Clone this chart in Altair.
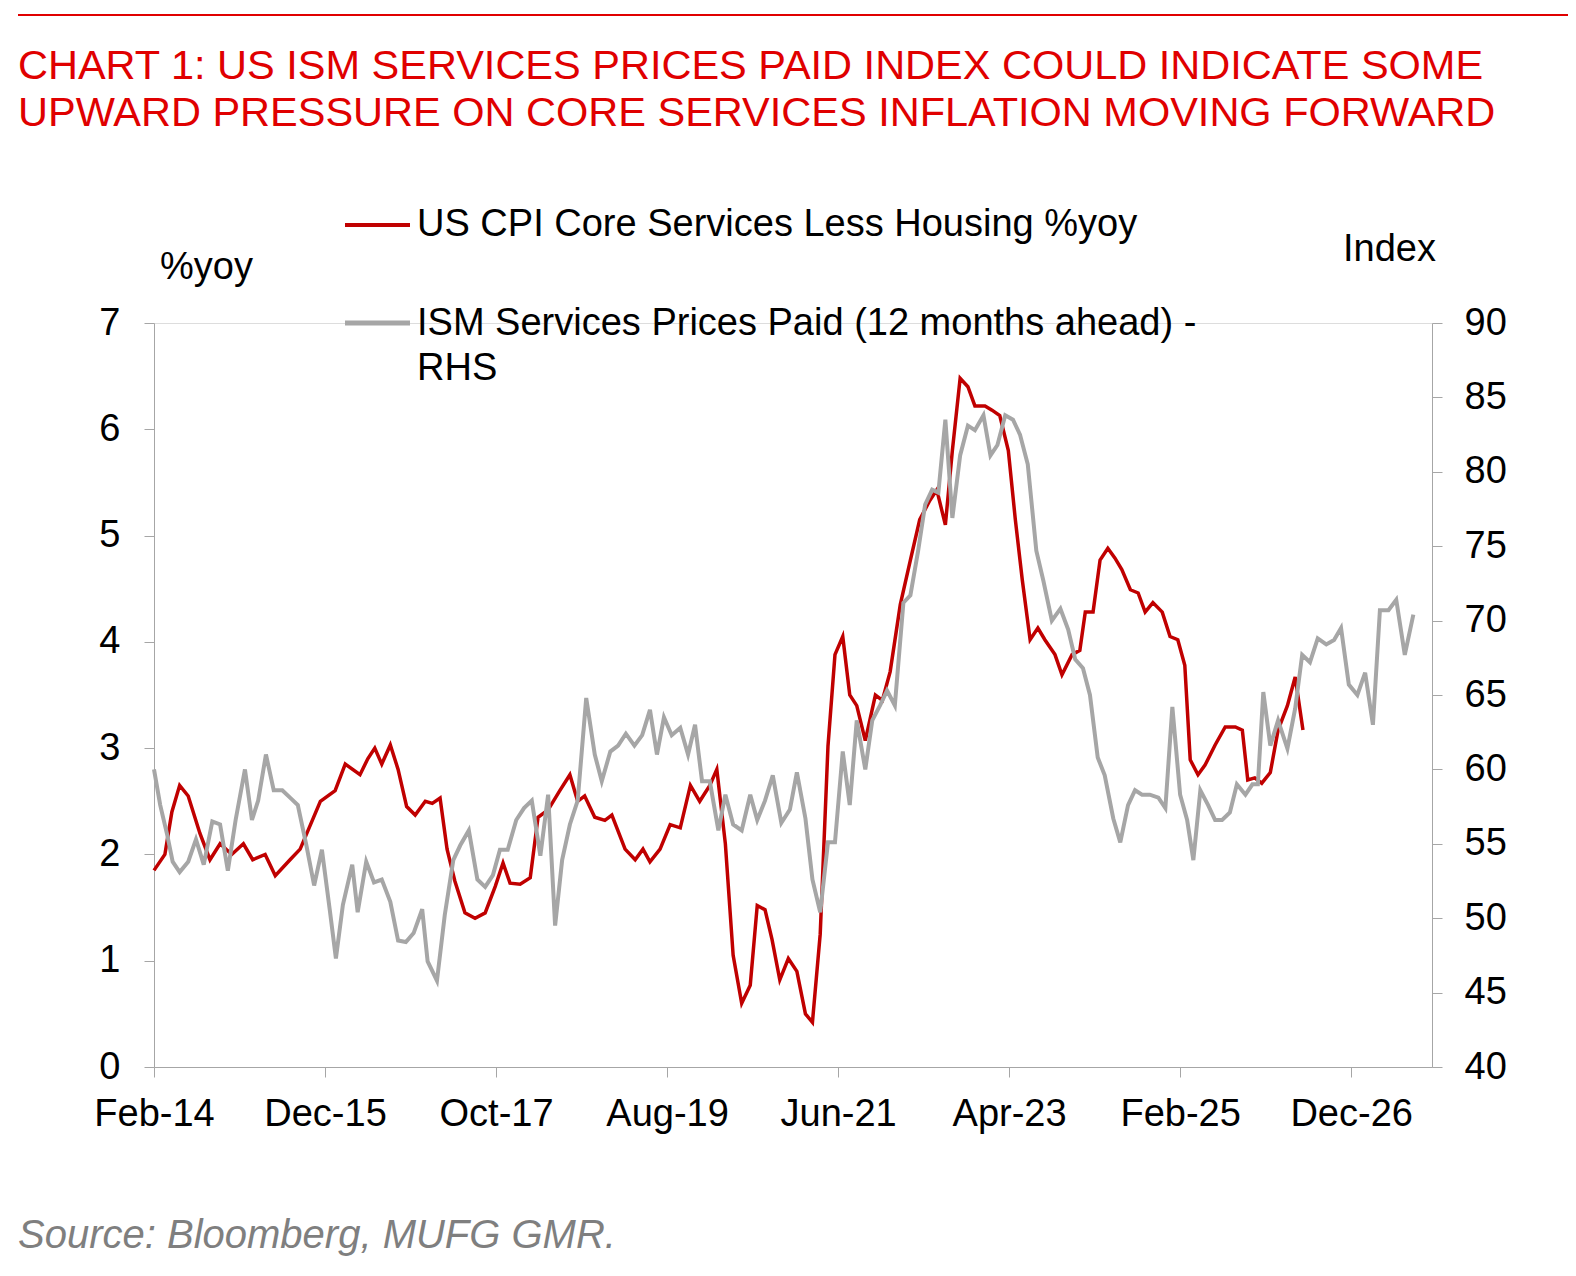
import pandas as pd
import altair as alt

FONT = "Liberation Sans"

# months since Feb-2014 and values
cpi_month = [0, 1.4, 2.3, 3.3, 4.4, 5.9, 7.2, 8.5, 10.0, 11.5, 12.7, 14.3, 15.6, 17.5, 18.8,
             21.4, 23.3, 24.6, 26.5, 27.5, 28.4, 29.3, 30.4, 31.4, 32.5, 33.6, 34.9, 35.8, 36.8,
             37.7, 38.7, 40.0, 41.3, 42.6, 43.9, 44.9, 45.8, 47.1, 48.4, 49.4, 50.7, 52.2, 53.5,
             54.5, 55.4, 56.7, 58.0, 58.9, 60.6, 61.9, 62.9, 63.8, 65.1, 66.4, 67.7, 69.0, 70.2,
             71.5, 72.4, 73.5, 74.5, 75.6, 76.7, 77.6, 78.6, 79.5, 80.5, 81.6, 82.7, 83.8, 84.7,
             85.7, 86.7, 87.6, 88.6, 89.5, 90.4, 91.5, 92.8, 93.7, 94.7, 96.0, 97.3, 98.5, 99.8,
             100.7, 101.8, 102.7, 103.7, 104.7, 105.6, 106.9, 107.8, 108.8, 109.9, 110.8, 111.7,
             112.7, 113.7, 114.6, 115.9, 116.8, 118.1, 119.1, 119.8, 120.8, 121.7, 122.7, 123.6,
             124.5, 125.6, 126.6, 127.5, 128.5, 129.7, 130.7, 131.7, 132.6, 133.3, 134.3, 135.2,
             136.5, 137.8, 139.1, 140.0, 140.7, 141.6, 142.5, 143.6, 144.6, 145.8, 146.8, 147.8]
cpi_value = [1.85, 2.0, 2.4, 2.65, 2.55, 2.2, 1.95, 2.1, 2.0, 2.1, 1.95, 2.0, 1.8, 1.95, 2.05,
             2.5, 2.6, 2.85, 2.75, 2.9, 3.0, 2.85, 3.03, 2.8, 2.45, 2.37, 2.5, 2.48, 2.53,
             2.05, 1.75, 1.45, 1.4, 1.45, 1.7, 1.92, 1.73, 1.72, 1.78, 2.35, 2.42, 2.6, 2.75,
             2.5, 2.55, 2.35, 2.32, 2.37, 2.05, 1.95, 2.05, 1.93, 2.05, 2.28, 2.25, 2.65, 2.5,
             2.65, 2.8, 2.1, 1.05, 0.6, 0.77, 1.52, 1.48, 1.2, 0.82, 1.02, 0.9, 0.5, 0.42,
             1.25, 3.02, 3.88, 4.05, 3.5, 3.4, 3.07, 3.5, 3.45, 3.72, 4.35, 4.77, 5.15, 5.33,
             5.43, 5.1, 5.8, 6.48, 6.4, 6.22, 6.22, 6.18, 6.13, 5.8, 5.15, 4.58,
             4.02, 4.13, 4.02, 3.88, 3.69, 3.88, 3.92, 4.28, 4.28, 4.77, 4.88, 4.79,
             4.68, 4.49, 4.46, 4.28, 4.37, 4.28, 4.05, 4.02, 3.78, 2.89, 2.75, 2.84,
             3.03, 3.2, 3.2, 3.17, 2.7, 2.72, 2.67, 2.77, 3.17, 3.4, 3.67, 3.17]

ism_month = [0, 0.8, 1.7, 2.4, 3.3, 4.4, 5.4, 6.4, 7.5, 8.5, 9.5, 10.5, 11.7, 12.6, 13.4, 14.4,
             15.4, 16.5, 17.5, 18.5, 19.6, 20.6, 21.6, 22.6, 23.4, 24.3, 25.5, 26.2, 27.3, 28.3,
             29.3, 30.4, 31.4, 32.4, 33.4, 34.5, 35.2, 36.4, 37.4, 38.5, 39.4, 40.5, 41.6, 42.6,
             43.6, 44.5, 45.5, 46.6, 47.6, 48.6, 49.7, 50.7, 51.6, 52.5, 53.5, 54.5, 55.6, 56.7,
             57.6, 58.7, 59.7, 60.7, 61.8, 62.8, 63.8, 64.7, 65.6, 66.6, 67.7, 68.7, 69.6, 70.5,
             71.5, 72.6, 73.5, 74.5, 75.6, 76.7, 77.6, 78.6, 79.6, 80.7, 81.8, 82.7, 83.8, 84.7,
             85.7, 86.7, 87.6, 88.6, 89.5, 90.4, 91.5, 92.4, 93.4, 94.3, 95.3, 96.4, 97.3, 98.3,
             99.2, 100.1, 100.9, 101.8, 102.7, 103.7, 104.7, 105.6, 106.7, 107.6, 108.5, 109.5,
             110.5, 111.4, 112.4, 113.5, 114.4, 115.5, 116.6, 117.6, 118.5, 119.5, 120.4, 121.4,
             122.3, 123.4, 124.3, 125.3, 126.2, 127.1, 128.1, 129.2, 130.1, 131.0, 132.0, 132.9,
             133.7, 134.6, 135.6, 136.5, 137.4, 138.4, 139.3, 140.4, 141.3, 142.0, 142.7, 143.6,
             144.6, 145.8, 146.8, 147.7, 148.7, 149.7, 150.8, 151.8, 152.7, 153.7, 154.8, 155.8,
             156.8, 157.7, 158.8, 159.8, 160.9, 162.0]
ism_value = [60, 57.6, 55.6, 53.8, 53.1, 53.8, 55.3, 53.6, 56.5, 56.3, 53.2, 56.6, 60, 56.6,
             57.9, 61, 58.6, 58.6, 58.1, 57.6, 54.9, 52.2, 54.6, 50.6, 47.3, 50.9, 53.6, 50.4,
             53.8, 52.4, 52.6, 51.1, 48.5, 48.4, 49, 50.6, 47.1, 45.8, 50.2, 53.9, 54.9, 55.9,
             52.6, 52.1, 52.9, 54.6, 54.6, 56.6, 57.4, 57.9, 54.2, 58.3, 49.5, 53.9, 56.3, 57.9,
             64.8, 61, 59.2, 61.2, 61.6, 62.4, 61.6, 62.3, 64, 61, 63.5, 62.3, 62.8, 61, 63,
             59.2, 59.2, 55.9, 58.3, 56.3, 55.9, 58.3, 56.6, 57.9, 59.6, 56.4, 57.3, 59.8, 56.7,
             52.6, 50.4, 55.1, 55.1, 61.2, 57.6, 63.3, 60, 63.3, 64.3, 65.3, 64.3, 71.2, 71.7,
             74.7, 77.8, 78.8, 78.6, 83.5, 76.9, 81.1, 83.1, 82.8, 83.8, 81.1, 81.8, 83.8, 83.5,
             82.5, 80.5, 74.7, 72.7, 70, 70.8, 69.4, 67.4, 66.8, 65, 60.8, 59.6, 56.7, 55.1,
             57.6, 58.6, 58.3, 58.3, 58.1, 57.4, 64.2, 58.3, 56.6, 53.9, 58.6, 57.6, 56.6, 56.6,
             57.1, 59, 58.3, 59, 59, 65.2, 61.6, 63.3, 61.4, 64.1, 67.7, 67.2, 68.8, 68.4, 68.7,
             69.5, 65.7, 65, 66.5, 63, 70.7, 70.7, 71.4, 67.7, 70.4]

tick_months = [0, 22, 44, 66, 88, 110, 132, 154]
tick_labels = ["Feb-14", "Dec-15", "Oct-17", "Aug-19", "Jun-21", "Apr-23", "Feb-25", "Dec-26"]

title_lines = ["CHART 1: US ISM SERVICES PRICES PAID INDEX COULD INDICATE SOME",
               "UPWARD PRESSURE ON CORE SERVICES INFLATION MOVING FORWARD"]
legend_cpi = "US CPI Core Services Less Housing %yoy"
legend_ism = ["ISM Services Prices Paid (12 months ahead) -", "RHS"]
source_text = "Source: Bloomberg, MUFG GMR."

RED = "#c00000"
GREY = "#a6a6a6"

cpi = pd.DataFrame({"m": cpi_month, "v": cpi_value})
ism = pd.DataFrame({"m": ism_month, "v": ism_value})

label_expr = "[" + ",".join(f"'{t}'" for t in tick_labels) + "][round(datum.value / 22)]"
x_enc = alt.X("m:Q", scale=alt.Scale(domain=[0, 164.4], nice=False),
              axis=alt.Axis(values=tick_months, labelExpr=label_expr, title=None,
                            labelFontSize=38, labelPadding=18, tickSize=10,
                            domainColor=GREY, tickColor=GREY, grid=False,
                            labelFont=FONT, labelColor="black", labelFlush=False))

cpi_line = alt.Chart(cpi).mark_line(color=RED, strokeWidth=3.5).encode(
    x=x_enc,
    y=alt.Y("v:Q", scale=alt.Scale(domain=[0, 7], nice=False),
            axis=alt.Axis(values=list(range(8)), title=None, orient="left", grid=False,
                          labelFontSize=38, labelPadding=24, tickSize=10,
                          domainColor=GREY, tickColor=GREY, labelFont=FONT,
                          labelColor="black")),
)

ism_line = alt.Chart(ism).mark_line(color=GREY, strokeWidth=4).encode(
    x=x_enc,
    y=alt.Y("v:Q", scale=alt.Scale(domain=[40, 90], nice=False),
            axis=alt.Axis(values=list(range(40, 91, 5)), title=None, orient="right",
                          grid=False, labelFontSize=38, labelPadding=22, tickSize=10,
                          domainColor=GREY, tickColor=GREY, labelFont=FONT,
                          labelColor="black")),
)


def text(t, x, y, size=38, color="black", align="left", style="normal"):
    return alt.Chart(pd.DataFrame({"t": [t]})).mark_text(
        font=FONT, fontSize=size, color=color, align=align, baseline="middle",
        fontStyle=style,
    ).encode(text="t:N", x=alt.value(x), y=alt.value(y))


def rule(x, x2, y, color, width):
    return alt.Chart(pd.DataFrame({"a": [0]})).mark_rule(color=color, strokeWidth=width).encode(
        x=alt.value(x), x2=alt.value(x2), y=alt.value(y))


decor = [
    rule(-136, 1414, -308, "#e00000", 2),
    text(title_lines[0], -136, -256, size=41.5, color="#e00000"),
    text(title_lines[1], -136, -209, size=41.5, color="#e00000"),
    rule(191, 256, -98, RED, 4),
    text(legend_cpi, 263, -98),
    rule(191, 256, 0, GREY, 5),
    text(legend_ism[0], 263, 1),
    text(legend_ism[1], 263, 46),
    text("%yoy", 6, -55),
    text("Index", 1282, -73, align="right"),
    text(source_text, -136, 913, size=40, color="#7f7f7f", style="italic"),
]

chart = alt.layer(cpi_line, ism_line, *decor).resolve_scale(y="independent").properties(
    width=1278, height=744,
    autosize=alt.AutoSizeParams(type="none"),
    padding={"left": 146, "top": 315, "right": 136, "bottom": 201},
).configure_view(stroke=None, strokeWidth=0).configure_axis(grid=False).configure(
    background="white")

chart.save("out.html", embed_options={"renderer": "svg", "actions": False})
